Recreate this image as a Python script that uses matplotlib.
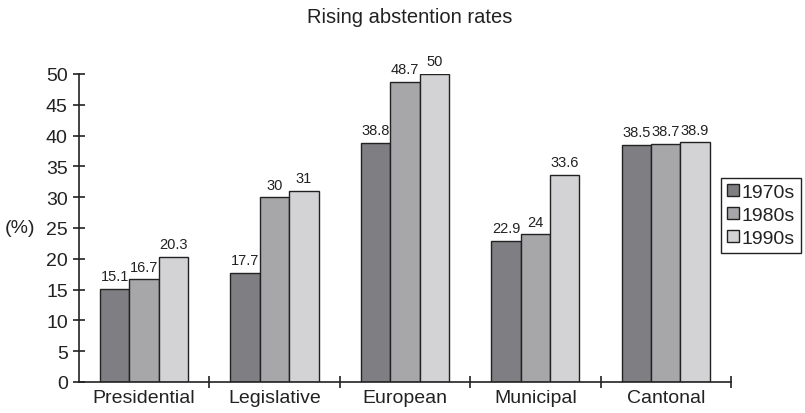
import numpy as np
import matplotlib.pyplot as plt

plt.rcParams['font.family'] = ['Liberation Sans', 'DejaVu Sans']

elections = ["Presidential", "Legislative", "European", "Municipal", "Cantonal"]
decades = ["1970s", "1980s", "1990s"]
rate_1970s = [15.1, 17.7, 38.8, 22.9, 38.5]
rate_1980s = [16.7, 30, 48.7, 24, 38.7]
rate_1990s = [20.3, 31, 50, 33.6, 38.9]

colors = ["#7f7f83", "#a7a7aa", "#d3d3d5"]
ink = "#222222"
fs = 14


def main():
    fig = plt.figure(figsize=(8.05, 4.14), dpi=100)
    ax = fig.add_axes([0.098, 0.075, 0.81, 0.744])

    x = np.arange(len(elections))
    width = 0.225
    series = [rate_1970s, rate_1980s, rate_1990s]
    for i, (vals, lab, col) in enumerate(zip(series, decades, colors)):
        bars = ax.bar(x + (i - 1) * width, vals, width, color=col,
                      edgecolor=ink, linewidth=1.0, label=lab)
        ax.bar_label(bars, labels=[f"{v:g}" for v in vals], padding=4,
                     fontsize=10.5, color=ink)

    ax.set_xlim(-0.5, len(elections) - 0.5)
    ax.set_ylim(0, 50)
    ax.set_yticks(range(0, 51, 5))
    ax.set_xticks(x)
    ax.set_xticklabels(elections)
    # tick marks go on the category boundaries, labels at the centres
    ax.set_xticks(np.arange(len(elections)) + 0.5, minor=True)
    ax.tick_params(axis="x", which="major", length=0, pad=5, labelsize=fs,
                   labelcolor=ink)
    ax.tick_params(axis="x", which="minor", direction="inout", length=8,
                   width=1.2, color=ink)
    ax.tick_params(axis="y", direction="inout", length=8, width=1.2,
                   color=ink, labelsize=fs, labelcolor=ink, pad=4)

    for side in ["top", "right"]:
        ax.spines[side].set_visible(False)
    for side in ["left", "bottom"]:
        ax.spines[side].set_linewidth(1.2)
        ax.spines[side].set_color(ink)

    ax.set_ylabel("(%)", rotation=0, fontsize=fs, color=ink, ha="center",
                  va="center")
    ax.yaxis.set_label_coords(-0.091, 0.5)

    fig.text(0.509, 0.958, "Rising abstention rates", ha="center", va="center",
             fontsize=14.5, color=ink)

    leg = fig.legend(loc="upper left", bbox_to_anchor=(0.896, 0.567),
                     fontsize=fs, handlelength=0.6, handleheight=0.6,
                     handletextpad=0.15, borderpad=0.3, labelspacing=0.3,
                     borderaxespad=0, fancybox=False, framealpha=1)
    leg.get_frame().set_edgecolor(ink)
    leg.get_frame().set_linewidth(1.0)
    for t in leg.get_texts():
        t.set_color(ink)

    fig.savefig("out.png", dpi=100)
    plt.close(fig)


if __name__ == "__main__":
    main()
